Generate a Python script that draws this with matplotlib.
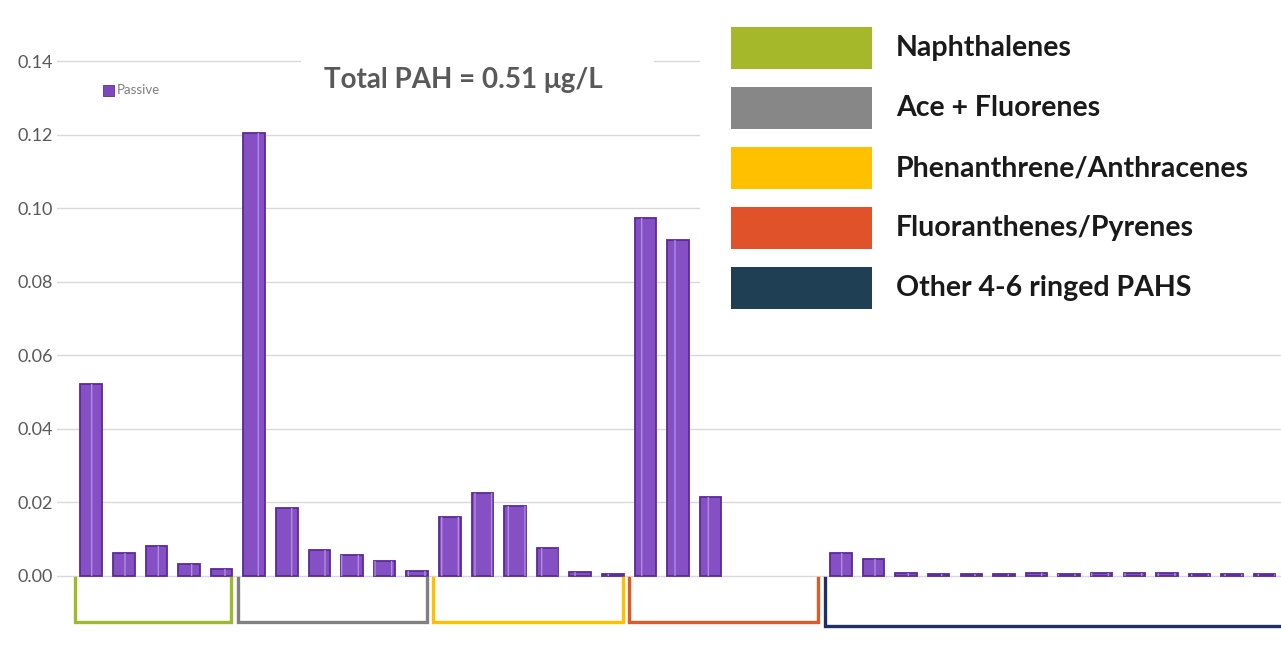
import matplotlib
matplotlib.use("Agg")
import matplotlib.pyplot as plt
from matplotlib.patches import Rectangle
import numpy as np

# concentrations (ug/L) per compound, grouped by PAH class
naphthalenes = [0.0522, 0.0063, 0.0082, 0.0033, 0.0019]
ace_fluorenes = [0.1204, 0.0185, 0.0071, 0.0057, 0.0041, 0.0014]
phen_anthracenes = [0.0160, 0.0226, 0.0190, 0.0076, 0.0011, 0.0005]
fluor_pyrenes = [0.0973, 0.0913, 0.0215, 0.0, 0.0, 0.0]
other_pahs = [0.0063, 0.0046, 0.0008, 0.0005, 0.0005, 0.0005, 0.0009,
              0.0005, 0.0008, 0.0008, 0.0008, 0.0005, 0.0005, 0.0005]

group_names = ["Naphthalenes", "Ace + Fluorenes", "Phenanthrene/Anthracenes",
               "Fluoranthenes/Pyrenes", "Other 4-6 ringed PAHS"]
group_colors = ["#A5B82A", "#878787", "#FFC000", "#E0522A", "#1F3F55"]
bracket_colors = ["#9BBB2A", "#808080", "#FFC000", "#E05A25", "#1F3068"]
yticks = [0.00, 0.02, 0.04, 0.06, 0.08, 0.10, 0.12, 0.14]
total_label = "Total PAH = 0.51 \u03bcg/L"

groups = [naphthalenes, ace_fluorenes, phen_anthracenes, fluor_pyrenes, other_pahs]
values = np.concatenate(groups)
x = np.arange(len(values))

W, H = 1281, 648
fig = plt.figure(figsize=(W / 100, H / 100), dpi=100)
ax = fig.add_axes([57 / W, 0, 1 - 57 / W, 1])
ax.set_xlim(-1.05, 36.5)
ax.set_ylim(-0.0196, 0.1566)

ax.set_axisbelow(True)
ax.yaxis.grid(True, color="#d9d9d9", lw=1.0)
ax.set_yticks(yticks)
ax.set_yticklabels([f"{t:.2f}" for t in yticks])
ax.tick_params(axis="y", length=0, pad=3, labelsize=13, labelcolor="#595959")
ax.set_xticks([])
for s in ax.spines.values():
    s.set_visible(False)
for lab in ax.get_yticklabels():
    lab.set_fontfamily("Lato")

# bars: filled body plus a light striped overlay (empty values get no outline)
edge_w = np.where(values > 0, 1.3, 0)
ax.bar(x, values, width=0.66, color="#8550C4", edgecolor="#5A2A96",
       linewidth=edge_w, zorder=2, label="Passive")
ax.bar(x, values, width=0.66, facecolor="none", edgecolor="#B28AE0", lw=0,
       hatch="|", zorder=2.1)

# class brackets under the bars
start = 0
for vals, col in zip(groups, bracket_colors):
    end = start + len(vals) - 1
    x0, x1 = start - 0.5, end + 0.3
    last = col == bracket_colors[-1]
    bottom = -0.0136 if last else -0.0125
    if last:
        x1 = 37.5
    ax.plot([x0, x0, x1, x1], [-0.0005, bottom, bottom, -0.0005], color=col,
            lw=2.4, solid_joinstyle="miter", clip_on=False, zorder=3)
    start = end + 1


def fx(px):
    return px / W


def fy(py):
    return 1 - py / H


# small series legend
fig.add_artist(Rectangle((fx(103), fy(96)), 11 / W, 11 / H,
                         facecolor="#7D48BD", edgecolor="#5E2D9A", lw=0.6))
fig.text(fx(117), fy(90), "Passive", fontsize=9.5, color="#7f7f7f",
         family="Lato", va="center")

# title box
fig.add_artist(Rectangle((fx(301), fy(118)), 353 / W, 80 / H,
                         facecolor="white", edgecolor="none", zorder=1))
fig.text(fx(463), fy(80), total_label, fontsize=20, fontweight="bold",
         color="#595959", family=["Lato", "DejaVu Sans"], ha="center",
         va="center", zorder=2)

# class legend panel
fig.add_artist(Rectangle((fx(700), fy(330)), 581 / W, 330 / H,
                         facecolor="white", edgecolor="none", zorder=1))
for i, (name, col) in enumerate(zip(group_names, group_colors)):
    cy = 48 + 60 * i
    fig.add_artist(Rectangle((fx(731), fy(cy + 21)), 141 / W, 42 / H,
                             facecolor=col, edgecolor="none", zorder=2))
    fig.text(fx(896), fy(cy), name, fontsize=20.5, fontweight="bold",
             color="#1a1a1a", family="Lato", va="center", zorder=2)

fig.savefig("out.png", dpi=100)
plt.close(fig)
